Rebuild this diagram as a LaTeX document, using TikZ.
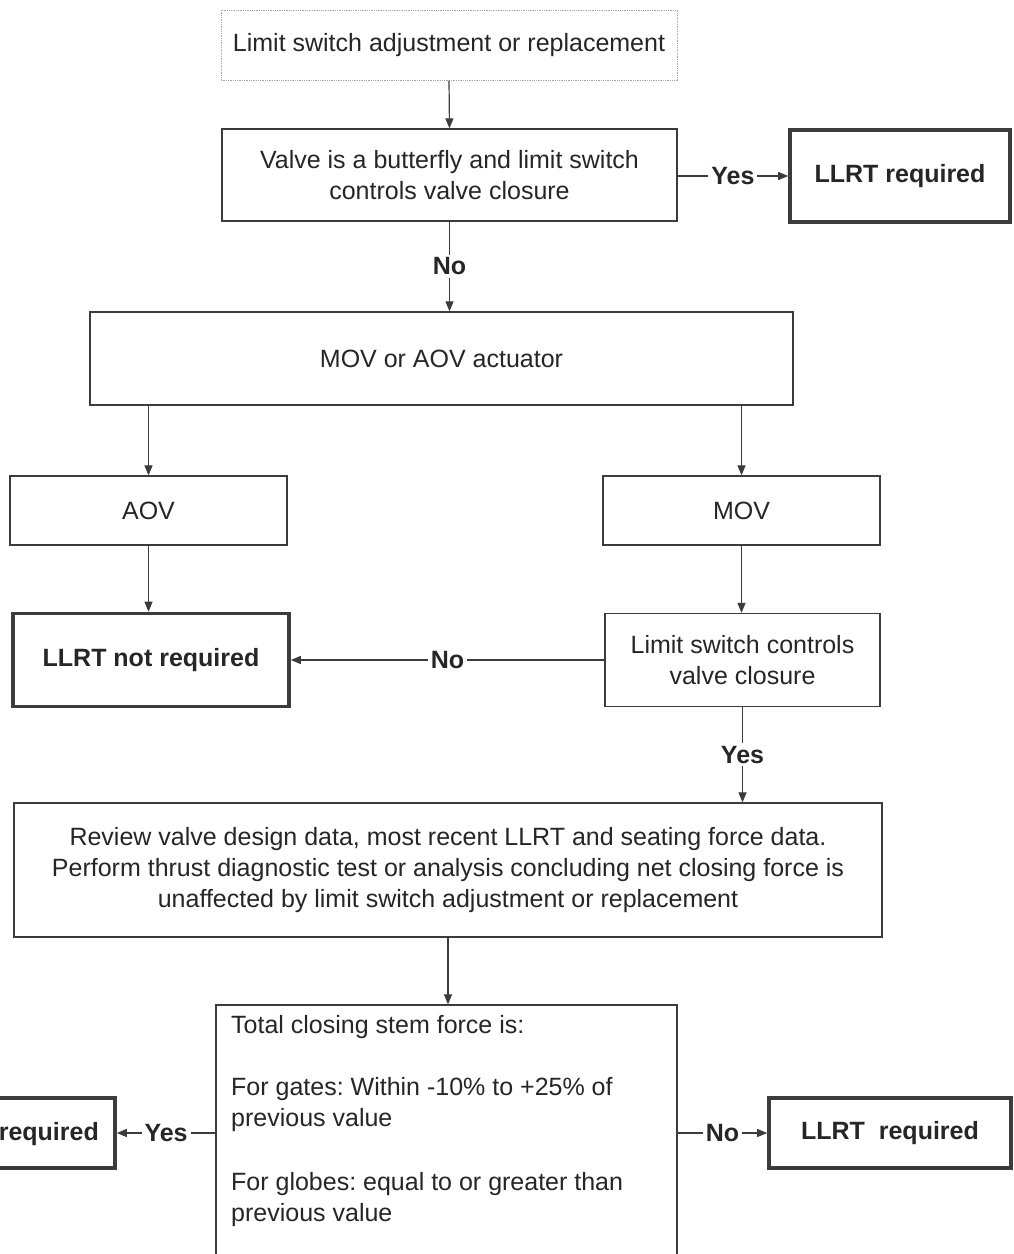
\documentclass[tikz,border=0pt]{standalone}
\usepackage{fontspec}
\setmainfont{Liberation Sans}
\usetikzlibrary{arrows.meta}
\definecolor{linec}{HTML}{3C3C3C}
\definecolor{txtc}{HTML}{262626}
\newcommand\myfs{\fontsize{25}{31}\selectfont}
\frenchspacing
\tikzset{
  box/.style={draw=linec, line width=1.3pt, rectangle, inner sep=0pt, align=center, font=\myfs, text=txtc},
  thickbox/.style={box, line width=3.6pt, font=\myfs\bfseries},
  lbl/.style={font=\myfs\bfseries, text=txtc, fill=white, inner sep=3pt},
  arr/.style={draw=linec, line width=1.2pt, -{Triangle[length=10pt,width=8pt]}},
  ln/.style={draw=linec, line width=1.2pt}
}
\begin{document}
\begin{tikzpicture}[x=1pt,y=-1pt]
\useasboundingbox (0,0) rectangle (1014,1254);
\clip (0,0) rectangle (1014,1254);
\fill[white] (0,0) rectangle (1014,1254);

\node[box, draw=gray!70, densely dotted, line width=1pt, minimum width=456pt, minimum height=70pt] (start) at (449,45) {Limit switch adjustment or replacement};
\node[box, minimum width=455pt, minimum height=92pt] (butterfly) at (449.5,175) {Valve is a butterfly and limit switch\\controls valve closure};
\node[thickbox, minimum width=220pt, minimum height=92pt] (req1) at (900,176) {LLRT required};
\node[box, minimum width=703pt, minimum height=93pt] (actuator) at (441.5,358.5) {MOV or AOV actuator};
\node[box, minimum width=277pt, minimum height=69pt] (aov) at (148.5,510.5) {AOV};
\node[box, minimum width=277pt, minimum height=69pt] (mov) at (741.5,510.5) {MOV};
\node[thickbox, minimum width=276pt, minimum height=93pt] (notreq) at (151,660) {LLRT not required};
\node[box, minimum width=275pt, minimum height=93pt] (lsc) at (742.5,660) {Limit switch controls\\valve closure};
\node[box, minimum width=868pt, minimum height=134pt] (review) at (448,870) {Review valve design data, most recent LLRT and seating force data.\\Perform thrust diagnostic test or analysis concluding net closing force is\\unaffected by limit switch adjustment or replacement};
\node[box, minimum width=461pt, minimum height=300pt] (force) at (446.5,1155) {};
\node[anchor=north west, inner sep=0pt, align=left, font=\myfs, text=txtc] (forcetext) at (231,1015) {%
Total closing stem force is:\\[31pt]
For gates: Within -10\% to +25\% of\\
previous value\\[33pt]
For globes: equal to or greater than\\
previous value};
\node[thickbox, minimum width=262pt, minimum height=70pt] (notreq2) at (-16,1133) {};
\node[anchor=east, inner sep=0pt, font=\myfs\bfseries, text=txtc] (notreq2text) at (99,1134) {required};
\node[thickbox, minimum width=242pt, minimum height=70pt] (req2) at (890,1133) {LLRT\ \ required};

\draw[arr] (start.south) -- (butterfly.north);
\draw[arr] (butterfly.east |- req1.west) -- node[lbl]{Yes} (req1.west);
\draw[arr] (butterfly.south) -- node[lbl]{No} (actuator.north -| butterfly.south);
\draw[arr] (actuator.south -| aov.north) -- (aov.north);
\draw[arr] (actuator.south -| mov.north) -- (mov.north);
\draw[arr] (aov.south) -- (notreq.north -| aov.south);
\draw[arr] (mov.south) -- (lsc.north -| mov.south);
\draw[arr] (lsc.west) -- node[lbl]{No} (notreq.east);
\draw[arr] (lsc.south) -- node[lbl]{Yes} (review.north -| lsc.south);
\draw[arr] (review.south) -- (force.north -| review.south);
\draw[arr] (force.east |- req2.west) -- node[lbl]{No} (req2.west);
\draw[arr] (force.west |- notreq2.east) -- node[lbl]{Yes} (notreq2.east);
\end{tikzpicture}
\end{document}
